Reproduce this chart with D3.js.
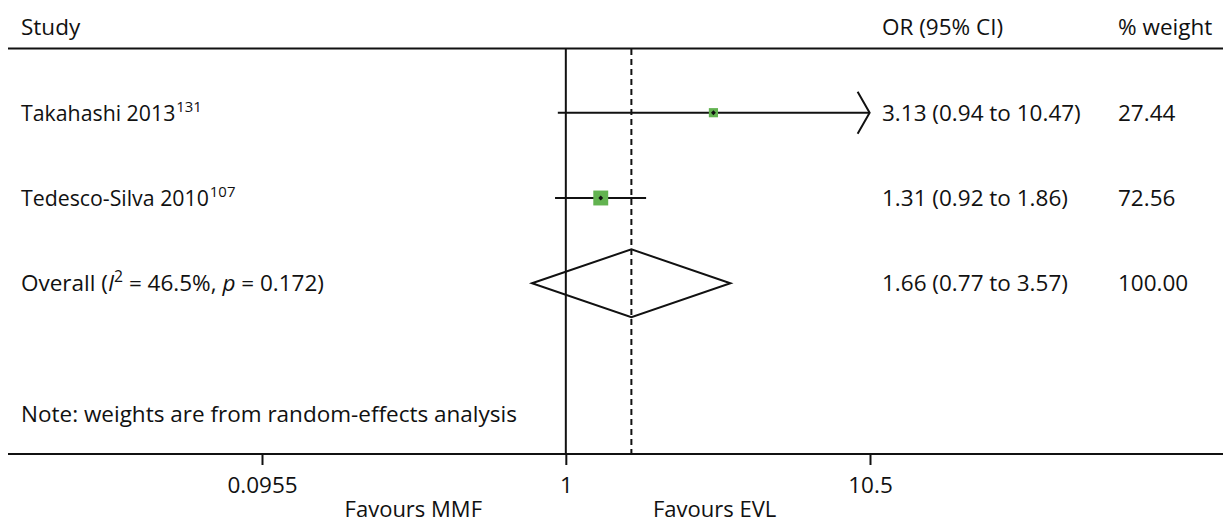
<!DOCTYPE html>
<html>
<head>
<meta charset="utf-8">
<script src="https://cdn.jsdelivr.net/npm/d3@7"></script>
<style>
  html, body { margin: 0; padding: 0; background: #fff; }
  svg { display: block; }
  text { font-family: "Open Sans", "Noto Sans", sans-serif; fill: #111; }
</style>
</head>
<body>
<svg id="chart" width="1225" height="524"></svg>
<script>
// ---- data ----
const studies = ["Takahashi 2013", "Tedesco-Silva 2010"];
const refs = ["131", "107"];
const orValues = [3.13, 1.31];
const ciLow = [0.94, 0.92];
const ciHigh = [10.47, 1.86];
const weights = [27.44, 72.56];
const orLabels = ["3.13 (0.94 to 10.47)", "1.31 (0.92 to 1.86)"];
const weightLabels = ["27.44", "72.56"];
const overall = { or: 1.66, lo: 0.77, hi: 3.57, label: "1.66 (0.77 to 3.57)", weight: "100.00" };
const tickValues = [0.0955, 1, 10.5];
const tickLabels = ["0.0955", "1", "10.5"];
const headers = ["Study", "OR (95% CI)", "% weight"];
const favours = ["Favours MMF", "Favours EVL"];
const note = "Note: weights are from random-effects analysis";

// ---- layout ----
const svg = d3.select("#chart");
const fs = 22.5, fsStudy = 21.3, fsFav = 22;
const x = d3.scaleLog().domain([0.0955, 10.5]).range([262, 870]);
const y = d3.scaleLinear().domain([0, 1]).range([112.7, 198]);
const sz = d3.scaleSqrt().domain([0, 100]).range([0, 17.5]);
const lineTop = 49, axisY = 454;
const colOR = 882, colW = 1118, colStudy = 21;

// header
svg.append("text").attr("x", colStudy).attr("y", 35).attr("font-size", fs).text(headers[0]);
svg.append("text").attr("x", colOR).attr("y", 35).attr("font-size", fs).text(headers[1]);
svg.append("text").attr("x", colW).attr("y", 35).attr("font-size", fs).text(headers[2]);
svg.append("line").attr("x1", 8).attr("x2", 1223).attr("y1", 48.5).attr("y2", 48.5)
  .attr("stroke", "#111").attr("stroke-width", 2);

// reference lines
svg.append("line").attr("x1", x(1)).attr("x2", x(1)).attr("y1", lineTop).attr("y2", axisY)
  .attr("stroke", "#111").attr("stroke-width", 2);
svg.append("line").attr("x1", x(overall.or)).attr("x2", x(overall.or)).attr("y1", lineTop).attr("y2", axisY)
  .attr("stroke", "#111").attr("stroke-width", 2).attr("stroke-dasharray", "6,4");

// axis
const axis = d3.axisBottom(x).tickValues(tickValues).tickFormat((d, i) => tickLabels[i]).tickSize(11).tickSizeOuter(0);
const gAxis = svg.append("g").attr("transform", `translate(0,${axisY})`).call(axis);
gAxis.select(".domain").remove();
gAxis.selectAll(".tick line").attr("stroke", "#111").attr("stroke-width", 2);
gAxis.selectAll(".tick text").attr("font-size", fs).attr("font-family", "Open Sans, Noto Sans, sans-serif")
  .attr("fill", "#111").attr("dy", 0).attr("y", 39);
svg.append("line").attr("x1", 8).attr("x2", 1223).attr("y1", axisY).attr("y2", axisY)
  .attr("stroke", "#111").attr("stroke-width", 2);

svg.append("text").attr("x", 482).attr("y", 516.5).attr("text-anchor", "end").attr("font-size", fsFav).text(favours[0]);
svg.append("text").attr("x", 653).attr("y", 516.5).attr("font-size", fsFav).text(favours[1]);

// studies
const xMax = x.domain()[1];
studies.forEach((s, i) => {
  const cy = y(i);
  const t = svg.append("text").attr("x", colStudy).attr("y", cy + 8).attr("font-size", fsStudy);
  t.append("tspan").text(s);
  t.append("tspan").attr("font-size", fsStudy * 0.7).attr("dy", -9).attr("dx", 1).text(refs[i]);

  const hiClip = Math.min(ciHigh[i], xMax);
  svg.append("line").attr("x1", x(ciLow[i])).attr("x2", x(hiClip)).attr("y1", cy).attr("y2", cy)
    .attr("stroke", "#111").attr("stroke-width", 2);
  if (ciHigh[i] >= xMax * 0.99) {
    const tx = x(hiClip);
    svg.append("path").attr("d", `M${tx - 12},${cy - 21}L${tx},${cy}L${tx - 12},${cy + 21}`)
      .attr("fill", "none").attr("stroke", "#111").attr("stroke-width", 2);
  }
  const s2 = sz(weights[i]);
  svg.append("rect").attr("x", x(orValues[i]) - s2 / 2).attr("y", cy - s2 / 2)
    .attr("width", s2).attr("height", s2).attr("fill", "#62b350");
  svg.append("path").attr("d", d3.symbol(d3.symbolSquare, 12)())
    .attr("transform", `translate(${x(orValues[i])},${cy}) rotate(45)`).attr("fill", "#111");

  svg.append("text").attr("x", colOR).attr("y", cy + 8).attr("font-size", fs).text(orLabels[i]);
  svg.append("text").attr("x", colW).attr("y", cy + 8).attr("font-size", fs).text(weightLabels[i]);
});

// overall
const oy = y(2);
const ot = svg.append("text").attr("x", colStudy).attr("y", oy + 8).attr("font-size", fs);
ot.append("tspan").text("Overall (");
ot.append("tspan").attr("font-style", "italic").text("I");
ot.append("tspan").attr("font-size", fs * 0.7).attr("dy", -9).text("2");
ot.append("tspan").attr("dy", 9).text("\u00a0=\u00a046.5%, ");
ot.append("tspan").attr("font-style", "italic").text("p");
ot.append("tspan").text("\u00a0=\u00a00.172)");

svg.append("path")
  .attr("d", `M${x(overall.lo)},${oy}L${x(overall.or)},${oy - 34}L${x(overall.hi)},${oy}L${x(overall.or)},${oy + 34}Z`)
  .attr("fill", "none").attr("stroke", "#111").attr("stroke-width", 2);
svg.append("text").attr("x", colOR).attr("y", oy + 8).attr("font-size", fs).text(overall.label);
svg.append("text").attr("x", colW).attr("y", oy + 8).attr("font-size", fs).text(overall.weight);

// note
svg.append("text").attr("x", colStudy).attr("y", 421.7).attr("font-size", fs).text(note);
</script>
</body>
</html>
